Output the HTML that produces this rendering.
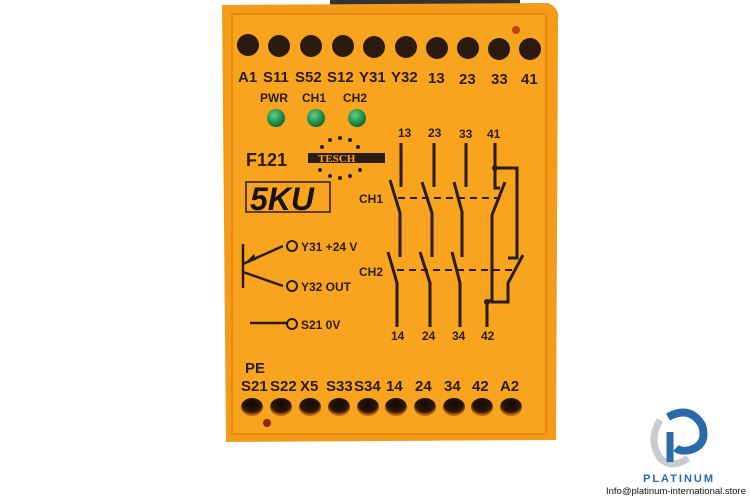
<!DOCTYPE html>
<html><head><meta charset="utf-8"><style>
html,body{margin:0;padding:0;background:#fff;width:750px;height:500px;overflow:hidden}
svg{display:block}
text{font-family:"Liberation Sans",sans-serif;font-weight:bold;fill:#2a1c10}
</style></head><body>
<svg width="750" height="500" viewBox="0 0 750 500">
<defs>
<radialGradient id="led" cx="40%" cy="35%" r="65%"><stop offset="0" stop-color="#5fd08a"/><stop offset="1" stop-color="#0b6a2c"/></radialGradient>
<radialGradient id="hole" cx="50%" cy="35%" r="60%"><stop offset="0" stop-color="#120a04"/><stop offset="0.7" stop-color="#2a1608"/><stop offset="1" stop-color="#c96a10"/></radialGradient>
</defs>
<rect x="330" y="0" width="190" height="5" fill="#333"/>
<path d="M222 5 L548 3 Q560 8 558 20 L556 440 L226 442 Z" fill="#f49b1a"/>
<rect x="232" y="14" width="314" height="420" fill="#f8a41f" stroke="#e88a10" stroke-width="2"/>
<g fill="#2b1a10">
<circle cx="248" cy="45" r="11"/><circle cx="279" cy="46" r="11"/><circle cx="311" cy="46" r="11"/><circle cx="343" cy="46" r="11"/><circle cx="374" cy="47" r="11"/><circle cx="406" cy="47" r="11"/><circle cx="437" cy="48" r="11"/><circle cx="468" cy="48" r="11"/><circle cx="499" cy="49" r="11"/><circle cx="530" cy="49" r="11"/>
</g>
<circle cx="516" cy="30" r="4" fill="#c0400a"/>
<g font-size="15">
<text x="238" y="82">A1</text><text x="263" y="82">S11</text><text x="295" y="82">S52</text><text x="327" y="82">S12</text><text x="359" y="82">Y31</text><text x="391" y="82">Y32</text><text x="428" y="83">13</text><text x="459" y="84">23</text><text x="491" y="84">33</text><text x="521" y="84">41</text>
</g>
<g font-size="12"><text x="260" y="102">PWR</text><text x="302" y="102">CH1</text><text x="343" y="102">CH2</text></g>
<circle cx="276" cy="118" r="9" fill="url(#led)"/><circle cx="316" cy="118" r="9" fill="url(#led)"/><circle cx="357" cy="118" r="9" fill="url(#led)"/>
<text x="246" y="166" font-size="18">F121</text>
<rect x="308" y="153" width="77" height="10" fill="#2a1c10"/>
<text x="318" y="162" font-size="11" style="fill:#f8a41f;font-family:'Liberation Serif',serif">TESCH</text>
<g fill="#2a1c10"><circle cx="340" cy="138" r="2"/><circle cx="330" cy="140" r="2"/><circle cx="350" cy="140" r="2"/><circle cx="322" cy="147" r="2"/><circle cx="358" cy="147" r="2"/><circle cx="320" cy="170" r="2"/><circle cx="330" cy="176" r="2"/><circle cx="340" cy="178" r="2"/><circle cx="350" cy="176" r="2"/><circle cx="360" cy="170" r="2"/></g>
<rect x="246" y="182" width="84" height="30" fill="none" stroke="#2a1c10" stroke-width="1.5"/>
<text x="250" y="210" font-size="32" style="font-style:italic;fill:#1a1208">5KU</text>
<g font-size="12"><text x="359" y="203">CH1</text><text x="359" y="276">CH2</text>
<text x="398" y="137">13</text><text x="428" y="137">23</text><text x="459" y="138">33</text><text x="487" y="138">41</text>
<text x="391" y="340">14</text><text x="422" y="340">24</text><text x="452" y="340">34</text><text x="481" y="340">42</text>
<text x="301" y="251">Y31 +24 V</text><text x="301" y="291">Y32 OUT</text><text x="301" y="329">S21 0V</text></g>
<g stroke="#2a1c10" stroke-width="3" fill="none">
<path d="M401 143V187M390 180L400 213V257M388 252L397 283V327"/>
<path d="M434 143V187M422 182L432 213V257M420 252L430 283V327"/>
<path d="M466 143V187M454 182L462 212V257M452 252L460 283V327"/>
<path d="M495 143V188H500M495 168H517V258H508M505 182L492 215V302H508V283L523 255M487 302V327M492 300L487 302"/>
<path d="M243 244V288M243 264L283 246M243 272L283 286M250 323H287" stroke-width="2.5"/>
</g>
<path d="M398 198H497M397 270H517" stroke="#2a1c10" stroke-width="2" stroke-dasharray="7 5"/>
<circle cx="495" cy="168" r="3" fill="#2a1c10"/><circle cx="487" cy="302" r="3" fill="#2a1c10"/>
<path d="M246 262l8-8 2 6z" fill="#2a1c10"/>
<g fill="#f8a41f" stroke="#2a1c10" stroke-width="2"><circle cx="292" cy="246" r="5"/><circle cx="292" cy="286" r="5"/><circle cx="292" cy="324" r="5"/></g>
<text x="245" y="373" font-size="15">PE</text>
<g font-size="15">
<text x="241" y="391">S21</text><text x="270" y="391">S22</text><text x="300" y="391">X5</text><text x="326" y="391">S33</text><text x="354" y="391">S34</text><text x="386" y="391">14</text><text x="415" y="391">24</text><text x="444" y="391">34</text><text x="472" y="391">42</text><text x="500" y="391">A2</text>
</g>
<g fill="url(#hole)">
<ellipse cx="252" cy="407" rx="11" ry="9"/><ellipse cx="281" cy="407" rx="11" ry="9"/><ellipse cx="310" cy="407" rx="11" ry="9"/><ellipse cx="339" cy="407" rx="11" ry="9"/><ellipse cx="368" cy="407" rx="11" ry="9"/><ellipse cx="396" cy="407" rx="11" ry="9"/><ellipse cx="425" cy="407" rx="11" ry="9"/><ellipse cx="454" cy="407" rx="11" ry="9"/><ellipse cx="482" cy="407" rx="11" ry="9"/><ellipse cx="511" cy="407" rx="11" ry="9"/>
</g>
<circle cx="267" cy="423" r="4" fill="#8a2a08"/>
<path d="M660 420 Q648 440 660 458 Q672 470 688 458" fill="none" stroke="#c8ccd0" stroke-width="7"/>
<path d="M668 417 Q690 405 702 425 Q708 445 690 450 Q680 452 676 448" fill="none" stroke="#2a6aa8" stroke-width="8"/>
<path d="M670 432 V462" stroke="#2a6aa8" stroke-width="7"/>
<path d="M673 428 Q688 424 690 433 Q690 442 678 441" fill="none" stroke="#fff" stroke-width="4"/>
<text x="643" y="482" font-size="11" style="fill:#2a6aa8;letter-spacing:2px">PLATINUM</text>
<text x="606" y="494" font-size="9" textLength="140" lengthAdjust="spacingAndGlyphs" style="font-weight:normal;fill:#111">Info@platinum-international.store</text>
</svg>
</body></html>
